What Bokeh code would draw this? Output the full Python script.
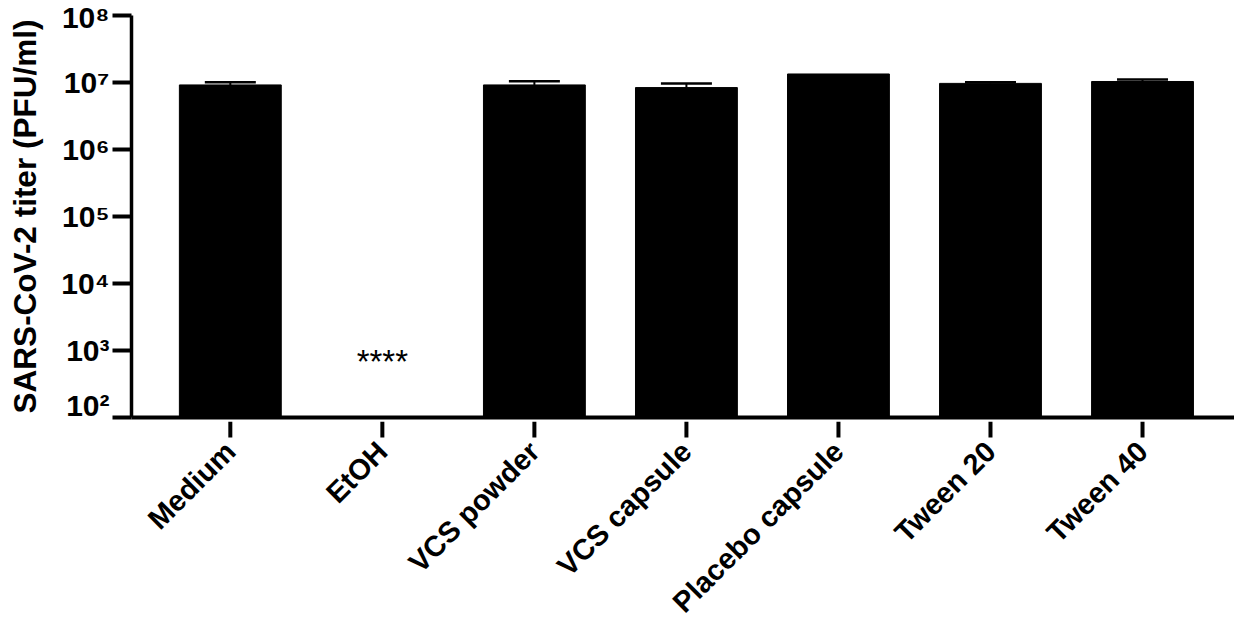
import math
from bokeh.plotting import figure
from bokeh.layouts import column
from bokeh.models import (ColumnDataSource, Range1d, FixedTicker, Whisker, TeeHead)
from bokeh.core.properties import value
from bokeh.embed import file_html
from bokeh.resources import INLINE

# ---- data ----
categories = ["Medium", "EtOH", "VCS powder", "VCS capsule", "Placebo capsule", "Tween 20", "Tween 40"]
titer_mean = [9.2e6, float("nan"), 9.2e6, 8.4e6, 1.34e7, 9.7e6, 1.035e7]
titer_sd = [0.9e6, float("nan"), 1.25e6, 1.3e6, float("nan"), 0.35e6, 0.75e6]
y_ticks = [1e2, 1e3, 1e4, 1e5, 1e6, 1e7, 1e8]
y_tick_labels = ["10²", "10³", "10⁴", "10⁵", "10⁶", "10⁷", "10⁸"]
sig_category = "EtOH"
sig_label = "****"
sig_y = 680.0
detection_floor = 1e2

FONT = "Liberation Sans"

xs = list(range(len(categories)))
upper = [m + s for m, s in zip(titer_mean, titer_sd)]
src = ColumnDataSource(dict(x=xs, top=titer_mean, upper=upper,
                            bottom=[detection_floor] * len(xs)))

W = 1234
TOP, FRAME_H, AXIS_PANEL = 15, 402, 4
H_MAIN = TOP + FRAME_H + AXIS_PANEL
H_STRIP = 620 - H_MAIN
x_range = Range1d(-0.65, 6.605)

# ---- main plot ----
p = figure(width=W, height=H_MAIN, y_axis_type="log",
           x_range=x_range, y_range=Range1d(y_ticks[0], y_ticks[-1]),
           output_backend="svg", toolbar_location=None,
           min_border_left=131, min_border_right=0, min_border_top=TOP,
           min_border_bottom=AXIS_PANEL)

p.vbar(x="x", top="top", bottom="bottom", width=0.67, source=src,
       fill_color="black", line_color="black")

wh = Whisker(base="x", lower="top", upper="upper", source=src, dimension="height",
             line_color="black", line_width=2,
             upper_head=TeeHead(size=51, line_color="black", line_width=2.5),
             lower_head=None)
p.add_layout(wh)

p.text(x=[categories.index(sig_category)], y=[sig_y], text=[sig_label],
       text_font=value(FONT), text_font_size="33px", text_align="center",
       text_baseline="alphabetic", text_color="black")

p.grid.visible = False
p.outline_line_color = None
p.background_fill_color = "white"
p.border_fill_color = "white"

ya = p.yaxis[0]
ya.ticker = FixedTicker(ticks=y_ticks, minor_ticks=[])
ya.major_label_overrides = {t: l for t, l in zip(y_ticks, y_tick_labels)}
ya.axis_label = "SARS-CoV-2 titer (PFU/ml)"
ya.axis_label_text_font = FONT
ya.axis_label_text_font_style = "bold"
ya.axis_label_text_font_size = "31.5px"
ya.axis_label_text_color = "black"
ya.axis_label_standoff = 15
ya.major_label_text_font = FONT
ya.major_label_text_font_style = "bold"
ya.major_label_text_font_size = "30px"
ya.major_label_text_color = "black"
ya.major_label_standoff = 3
ya.axis_line_width = 3.5
ya.axis_line_color = "black"
ya.major_tick_line_width = 4
ya.major_tick_line_color = "black"
ya.major_tick_out = 19
ya.major_tick_in = 0
ya.minor_tick_line_color = None

# x axis of the main plot: only its line (ticks and names are in the strip below)
xa = p.xaxis[0]
xa.ticker = FixedTicker(ticks=[], minor_ticks=[])
xa.axis_line_width = 4
xa.axis_line_color = "black"
xa.major_tick_out = 0
xa.major_tick_in = 0
xa.major_label_standoff = 0
xa.minor_tick_line_color = None

# ---- category strip: ticks and rotated category names ----
q = figure(width=W, height=H_STRIP, x_range=x_range, y_range=Range1d(0, 1),
           x_axis_location=None, y_axis_location=None,
           output_backend="svg", toolbar_location=None,
           min_border_left=131, min_border_right=0, min_border_top=0, min_border_bottom=0)
q.grid.visible = False
q.outline_line_color = None
q.background_fill_color = "white"
q.border_fill_color = "white"

q.ray(x=xs, y=[1] * len(xs), length=16, length_units="screen", angle=-math.pi / 2,
      line_color="black", line_width=4)
q.text(x=xs, y=[1] * len(xs), text=categories, angle=math.pi / 4,
       y_offset=25, text_align="right", text_baseline="middle",
       text_font=value(FONT), text_font_style="bold", text_font_size="29px",
       text_color="black")

layout = column(p, q, spacing=0)
open("out.html", "w").write(file_html(layout, INLINE))
